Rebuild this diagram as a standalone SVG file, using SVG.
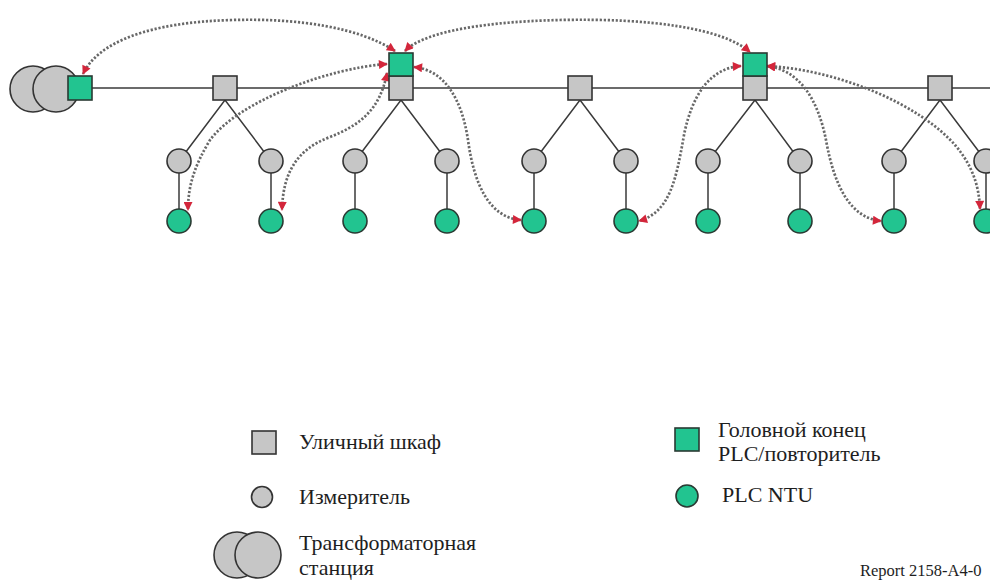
<svg xmlns="http://www.w3.org/2000/svg" width="990" height="581" viewBox="0 0 990 581">
<style>
.bg{fill:#ffffff}
.line{stroke:#3a3a3a;stroke-width:1.5;fill:none}
.dot{stroke:#686868;stroke-width:2.7;stroke-dasharray:2.2 1.8;fill:none;marker-start:url(#arr);marker-end:url(#arr)}
.gray{fill:#c6c6c6;stroke:#333333;stroke-width:1.6}
.green{fill:#22c490;stroke:#2a3a33;stroke-width:1.6}
.lbl{font-family:"Liberation Serif","Times New Roman",serif;font-size:22px;fill:#1e1e1e}
.rep{font-family:"Liberation Serif","Times New Roman",serif;font-size:16.5px;fill:#1e1e1e}
</style>
<defs>
<marker id="arr" viewBox="0 0 10 10" refX="9" refY="5" markerWidth="10" markerHeight="9" markerUnits="userSpaceOnUse" orient="auto-start-reverse">
<path d="M0,0 L10,5 L0,10 z" fill="#d3263b"/>
</marker>
</defs>
<rect class="bg" x="0" y="0" width="990" height="581"/>

<g id="connectors">
<line class="line" x1="92" y1="88" x2="990" y2="88"/>
<path class="line" d="M179,161 L225,100 L271,161"/>
<path class="line" d="M355,161 L401,100 L447,161"/>
<path class="line" d="M534,161 L580,100 L626,161"/>
<path class="line" d="M708,161 L755,100 L800,161"/>
<path class="line" d="M894,161 L940,100 L986,161"/>
<line class="line" x1="179" y1="161" x2="179" y2="221"/>
<line class="line" x1="271" y1="161" x2="271" y2="221"/>
<line class="line" x1="355" y1="161" x2="355" y2="221"/>
<line class="line" x1="447" y1="161" x2="447" y2="221"/>
<line class="line" x1="534" y1="161" x2="534" y2="221"/>
<line class="line" x1="626" y1="161" x2="626" y2="221"/>
<line class="line" x1="708" y1="161" x2="708" y2="221"/>
<line class="line" x1="800" y1="161" x2="800" y2="221"/>
<line class="line" x1="894" y1="161" x2="894" y2="221"/>
<line class="line" x1="986" y1="161" x2="986" y2="221"/>

<path class="dot" d="M395,51 C360,28 300,18 233,20 C150,22 98,42 83,74"/>
<path class="dot" d="M405,51 C420,35 470,22 560,20 C650,18 722,28 750,52"/>
<path class="dot" d="M387,64 C330,68 240,100 210,140 C195,165 188,185 188,210"/>
<path class="dot" d="M387,73 C380,110 360,125 330,137 C295,150 283,175 282,210"/>
<path class="dot" d="M414,67 C445,70 462,100 468,140 C474,185 490,218 521,220"/>
<path class="dot" d="M741,66 C710,68 692,95 684,135 C676,180 670,212 639,221"/>
<path class="dot" d="M767,66 C800,70 818,100 826,140 C834,185 850,218 881,221"/>
<path class="dot" d="M767,66 C840,70 920,105 955,145 C972,165 979,185 980,209"/>
</g>

<g id="transformer">
<circle class="gray" cx="33" cy="89" r="23"/>
<circle class="gray" cx="56" cy="89" r="23"/>
</g>
<g id="headend1"><rect class="green" x="68" y="76" width="24" height="24"/></g>
<g id="cabinet1"><rect class="gray" x="213" y="76" width="24" height="24"/></g>
<g id="cabinet2"><rect class="gray" x="389" y="76" width="24" height="24"/></g>
<g id="headend2"><rect class="green" x="389" y="53" width="24" height="23"/></g>
<g id="cabinet3"><rect class="gray" x="568" y="76" width="24" height="24"/></g>
<g id="cabinet4"><rect class="gray" x="743" y="76" width="24" height="24"/></g>
<g id="headend3"><rect class="green" x="743" y="53" width="24" height="23"/></g>
<g id="cabinet5"><rect class="gray" x="928" y="76" width="24" height="24"/></g>

<g id="meter1"><circle class="gray" cx="179" cy="161" r="12"/></g>
<g id="meter2"><circle class="gray" cx="271" cy="161" r="12"/></g>
<g id="meter3"><circle class="gray" cx="355" cy="161" r="12"/></g>
<g id="meter4"><circle class="gray" cx="447" cy="161" r="12"/></g>
<g id="meter5"><circle class="gray" cx="534" cy="161" r="12"/></g>
<g id="meter6"><circle class="gray" cx="626" cy="161" r="12"/></g>
<g id="meter7"><circle class="gray" cx="708" cy="161" r="12"/></g>
<g id="meter8"><circle class="gray" cx="800" cy="161" r="12"/></g>
<g id="meter9"><circle class="gray" cx="894" cy="161" r="12"/></g>
<g id="meter10"><circle class="gray" cx="986" cy="161" r="12"/></g>

<g id="ntu1"><circle class="green" cx="179" cy="221" r="12"/></g>
<g id="ntu2"><circle class="green" cx="271" cy="221" r="12"/></g>
<g id="ntu3"><circle class="green" cx="355" cy="221" r="12"/></g>
<g id="ntu4"><circle class="green" cx="447" cy="221" r="12"/></g>
<g id="ntu5"><circle class="green" cx="534" cy="221" r="12"/></g>
<g id="ntu6"><circle class="green" cx="626" cy="221" r="12"/></g>
<g id="ntu7"><circle class="green" cx="708" cy="221" r="12"/></g>
<g id="ntu8"><circle class="green" cx="800" cy="221" r="12"/></g>
<g id="ntu9"><circle class="green" cx="894" cy="221" r="12"/></g>
<g id="ntu10"><circle class="green" cx="986" cy="221" r="12"/></g>

<g id="legend-cabinet">
<rect class="gray" x="252" y="431" width="24" height="23"/>
<text class="lbl" x="299" y="449">Уличный шкаф</text>
</g>
<g id="legend-meter">
<circle class="gray" cx="262" cy="497" r="10.5"/>
<text class="lbl" x="299" y="504">Измеритель</text>
</g>
<g id="legend-transformer">
<circle class="gray" cx="237" cy="555" r="23"/>
<circle class="gray" cx="258" cy="555" r="23"/>
<text class="lbl" x="299" y="550">Трансформаторная</text>
<text class="lbl" x="299" y="575">станция</text>
</g>
<g id="legend-headend">
<rect class="green" x="675" y="428" width="24" height="23"/>
<text class="lbl" x="718" y="437">Головной конец</text>
<text class="lbl" x="718" y="461">PLC/повторитель</text>
</g>
<g id="legend-ntu">
<circle class="green" cx="687" cy="496" r="11"/>
<text class="lbl" x="722" y="502">PLC NTU</text>
</g>
<text class="rep" x="860" y="576">Report 2158-A4-0</text>
</svg>
